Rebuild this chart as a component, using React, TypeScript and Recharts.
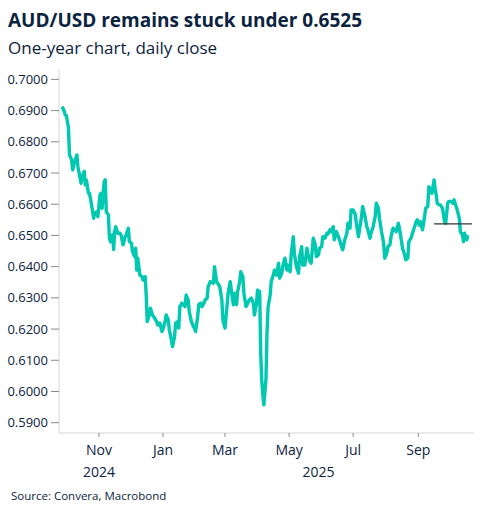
import React from "react";
import { LineChart, Line, XAxis, YAxis, ReferenceLine } from "recharts";

// day 0 = 27 Sep 2024
const START = Date.UTC(2024, 8, 27);
const DAY_MS = 86400000;
const dayOf = (iso: string) => Math.round((Date.parse(iso + "T00:00:00Z") - START) / DAY_MS);

const days = [
  0, 2, 3, 4, 6, 7, 9, 10, 12, 14, 15, 18, 19, 21, 22, 23, 25, 26, 28, 30,
  31, 33, 34, 36, 37, 38, 40, 41, 42, 44, 45, 46, 48, 49, 50, 51, 53, 55, 56, 58,
  60, 61, 63, 64, 66, 67, 69, 70, 71, 72, 74, 76, 77, 79, 80, 81, 83, 84, 86, 88,
  90, 91, 93, 95, 96, 98, 99, 101, 102, 104, 105, 107, 108, 110, 111, 112, 114, 115, 117, 118,
  120, 121, 123, 125, 126, 127, 129, 130, 132, 133, 135, 136, 138, 139, 141, 142, 144, 145, 147, 148,
  150, 152, 153, 155, 156, 158, 160, 161, 163, 164, 166, 167, 169, 170, 172, 173, 175, 176, 178, 180,
  182, 183, 185, 186, 188, 189, 190, 191, 192, 194, 195, 196, 198, 199, 201, 202, 204, 206, 207, 209,
  210, 212, 214, 215, 217, 218, 220, 221, 223, 225, 226, 228, 229, 231, 233, 234, 236, 237, 239, 241,
  242, 244, 245, 247, 248, 250, 252, 253, 255, 256, 258, 259, 261, 263, 264, 266, 267, 269, 271, 272,
  274, 275, 277, 279, 280, 282, 283, 285, 286, 288, 290, 291, 293, 294, 296, 298, 299, 301, 302, 304,
  306, 307, 309, 310, 312, 313, 315, 317, 318, 320, 321, 322, 324, 326, 327, 329, 330, 332, 333, 335,
  337, 338, 340, 341, 343, 345, 346, 348, 349, 351, 352, 354, 355, 356, 357, 359, 360, 362, 364, 365,
  367, 368, 370, 372, 373, 375, 376, 378, 379, 381, 382, 383, 385, 386, 387,
];

const closes = [
  0.6913, 0.6897, 0.6886, 0.6884, 0.6845, 0.6758, 0.6742, 0.671, 0.6737, 0.6758, 0.672, 0.6667, 0.6689, 0.6705, 0.6662, 0.6678, 0.6635, 0.6635, 0.6598, 0.6555,
  0.6571, 0.6576, 0.656, 0.663, 0.6635, 0.6587, 0.6673, 0.6678, 0.6576, 0.6566, 0.6491, 0.648, 0.6502, 0.6455, 0.6512, 0.6528, 0.6507, 0.6507, 0.6502, 0.647,
  0.6496, 0.6502, 0.6523, 0.648, 0.6475, 0.6448, 0.6432, 0.6459, 0.6389, 0.6427, 0.6373, 0.6368, 0.6357, 0.6368, 0.6309, 0.6224, 0.6245, 0.6267, 0.6245, 0.6235,
  0.6224, 0.6213, 0.6219, 0.6192, 0.62, 0.6224, 0.6245, 0.6229, 0.6197, 0.6165, 0.6144, 0.6176, 0.6219, 0.6224, 0.6203, 0.6272, 0.6283, 0.6278, 0.6272, 0.6309,
  0.6293, 0.6256, 0.6224, 0.6208, 0.6203, 0.6192, 0.624, 0.6278, 0.6283, 0.6272, 0.6283, 0.6293, 0.6299, 0.6336, 0.6352, 0.635, 0.6347, 0.64, 0.6352, 0.6347,
  0.6336, 0.6293, 0.6229, 0.6203, 0.624, 0.6315, 0.6352, 0.6325, 0.6278, 0.6315, 0.6278, 0.632, 0.6352, 0.6384, 0.6368, 0.6315, 0.6272, 0.6278, 0.6293, 0.6299,
  0.6283, 0.6245, 0.6283, 0.6325, 0.632, 0.612, 0.6035, 0.599, 0.5957, 0.604, 0.619, 0.627, 0.631, 0.6352, 0.6373, 0.6389, 0.6373, 0.6411, 0.6363, 0.6379,
  0.64, 0.6427, 0.6389, 0.6405, 0.6384, 0.6438, 0.6496, 0.6443, 0.64, 0.6379, 0.6432, 0.6464, 0.6405, 0.6405, 0.6459, 0.6438, 0.6416, 0.6411, 0.6491, 0.647,
  0.6432, 0.6438, 0.6459, 0.6464, 0.6496, 0.6491, 0.6507, 0.6505, 0.6518, 0.6512, 0.6528, 0.6486, 0.6512, 0.6496, 0.6486, 0.6464, 0.6454, 0.6486, 0.6507, 0.6539,
  0.6523, 0.6582, 0.6582, 0.6567, 0.6539, 0.6496, 0.6518, 0.6561, 0.6593, 0.6565, 0.6528, 0.6518, 0.6491, 0.6507, 0.6528, 0.6561, 0.6603, 0.6587, 0.6555, 0.6512,
  0.6475, 0.6427, 0.6443, 0.6464, 0.647, 0.6496, 0.6523, 0.6518, 0.6512, 0.6539, 0.6523, 0.6502, 0.6459, 0.6438, 0.6422, 0.6427, 0.648, 0.6491, 0.6502, 0.6523,
  0.6544, 0.655, 0.6533, 0.6544, 0.6518, 0.6561, 0.6587, 0.6593, 0.6656, 0.6646, 0.6635, 0.6678, 0.6651, 0.663, 0.6603, 0.6598, 0.6598, 0.6587, 0.6544, 0.6539,
  0.6603, 0.6609, 0.6609, 0.6603, 0.6614, 0.6593, 0.6582, 0.6555, 0.6512, 0.6502, 0.648, 0.6507, 0.6486, 0.6496, 0.6496,
];

const monthTickDates = ["2024-11-01", "2025-01-01", "2025-03-01", "2025-05-01", "2025-07-01", "2025-09-01"];
const monthLabels = ["Nov", "Jan", "Mar", "May", "Jul", "Sep"];
const yearLabels = ["2024", "2025"];
const yTicks = [0.59, 0.6, 0.61, 0.62, 0.63, 0.64, 0.65, 0.66, 0.67, 0.68, 0.69, 0.7];

// short black marker on the right
const markerLevel = 0.6537;
const markerFrom = "2025-09-16";
const markerTo = "2025-10-22";

const X_DOMAIN: [number, number] = [-3, 392];
const Y_DOMAIN: [number, number] = [0.5867, 0.703];

const data = days.map((d, i) => ({ day: d, close: closes[i] }));
const monthTicks = monthTickDates.map(dayOf);
// 2024 sits under Nov, 2025 centred on the visible part of 2025
const yearTicks = [monthTicks[0], Math.round((dayOf("2025-01-01") + X_DOMAIN[1]) / 2)];

const NAVY = "#0c2340";
const FONT = "'Segoe UI', 'Open Sans', sans-serif";
const TEAL = "#00c8b1";

export default function App() {
  return (
    <div style={{ position: "absolute", left: 0, top: 0, width: 491, height: 515, background: "#fff", fontFamily: FONT, color: NAVY }}>
      <div style={{ position: "absolute", left: 8, top: 11, fontSize: 19, fontWeight: 700, lineHeight: 1, whiteSpace: "nowrap" }}>
        AUD/USD remains stuck under 0.6525
      </div>
      <div style={{ position: "absolute", left: 8, top: 39, fontSize: 17, lineHeight: 1, whiteSpace: "nowrap" }}>
        One-year chart, daily close
      </div>
      <div style={{ position: "absolute", left: 11, top: 490, fontSize: 11.5, lineHeight: 1, whiteSpace: "nowrap" }}>
        Source: Convera, Macrobond
      </div>
      <div style={{ position: "absolute", left: 0, top: 0 }}>
        <LineChart width={491} height={515} data={data} margin={{ top: 70, right: 17, bottom: 30, left: 0 }}>
          <XAxis
            dataKey="day"
            type="number"
            domain={X_DOMAIN}
            ticks={monthTicks}
            allowDataOverflow
            tickFormatter={(v: number) => monthLabels[monthTicks.indexOf(v)] ?? ""}
            tick={{ fill: NAVY, fontSize: 14, fontFamily: FONT }}
            axisLine={{ stroke: "#d6d6d6" }}
            tickLine={{ stroke: "#8a8a8a" }}
            tickSize={4}
            tickMargin={8}
            height={30}
            interval={0}
          />
          <XAxis
            xAxisId="year"
            dataKey="day"
            type="number"
            domain={X_DOMAIN}
            ticks={yearTicks}
            allowDataOverflow
            tickFormatter={(v: number) => yearLabels[yearTicks.indexOf(v)] ?? ""}
            tick={{ fill: NAVY, fontSize: 14, fontFamily: FONT }}
            axisLine={false}
            tickLine={false}
            tickSize={0}
            tickMargin={4}
            height={22}
            interval={0}
          />
          <YAxis
            type="number"
            domain={Y_DOMAIN}
            ticks={yTicks}
            allowDataOverflow
            tickFormatter={(v: number) => v.toFixed(4)}
            tick={{ fill: NAVY, fontSize: 13, fontFamily: FONT }}
            axisLine={{ stroke: "#d6d6d6" }}
            tickLine={{ stroke: "#8a8a8a" }}
            tickSize={8}
            tickMargin={3}
            width={59}
            interval={0}
          />
          <Line
            type="linear"
            dataKey="close"
            stroke={TEAL}
            strokeWidth={3.4}
            strokeLinejoin="round"
            dot={false}
            activeDot={false}
            isAnimationActive={false}
          />
          <ReferenceLine
            segment={[
              { x: dayOf(markerFrom), y: markerLevel },
              { x: dayOf(markerTo), y: markerLevel },
            ]}
            stroke="#333"
            strokeWidth={1.3}
            ifOverflow="extendDomain"
          />
        </LineChart>
      </div>
    </div>
  );
}
